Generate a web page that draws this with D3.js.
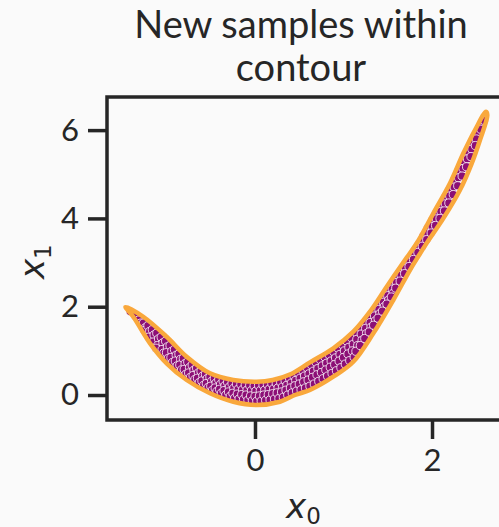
<!DOCTYPE html>
<html>
<head>
<meta charset="utf-8">
<script src="https://cdn.jsdelivr.net/npm/d3@7"></script>
<style>
  body { margin: 0; background: #fafafa; }
  svg { display: block; }
</style>
</head>
<body>
<svg width="499" height="527"></svg>
<script>
// title, ticks
var titleLines = ["New samples within", "contour"];
var xTicks = [0, 2];
var yTicks = [0, 2, 4, 6];

// contour outline (x0, x1), closed
var contour = [
  [-1.463, 1.993], [-1.262, 1.773], [-0.998, 1.320], [-0.772, 0.867], [-0.508, 0.491],
  [-0.245, 0.340], [0.019, 0.301], [0.200, 0.340], [0.400, 0.470], [0.621, 0.740],
  [0.885, 1.058], [1.111, 1.434], [1.299, 1.887], [1.488, 2.453], [1.695, 3.058],
  [1.827, 3.436], [2.015, 4.116], [2.203, 4.795], [2.354, 5.474], [2.486, 6.002],
  [2.610, 6.417], [2.625, 6.342], [2.542, 5.776], [2.449, 5.248], [2.316, 4.643],
  [2.128, 4.000], [1.940, 3.440], [1.842, 3.130], [1.751, 2.831], [1.563, 2.152],
  [1.337, 1.397], [1.111, 0.754], [0.885, 0.414], [0.621, 0.113], [0.452, 0.000],
  [0.282, -0.152], [0.019, -0.226], [-0.245, -0.152], [-0.508, 0.039], [-0.772, 0.340],
  [-0.998, 0.718], [-1.186, 1.171], [-1.375, 1.773]
];

// new samples (x0, x1)
var samples = [
  [-1.41,1.89],[-1.35,1.78],[-1.31,1.70],[-1.29,1.63],
  [-1.26,1.63],[-1.24,1.52],[-1.25,1.46],
  [-1.21,1.57],[-1.19,1.44],[-1.20,1.31],
  [-1.16,1.48],[-1.14,1.36],[-1.15,1.20],
  [-1.11,1.40],[-1.09,1.27],[-1.10,1.12],[-1.12,1.06],
  [-1.06,1.31],[-1.04,1.18],[-1.05,1.03],[-1.03,0.95],
  [-1.01,1.22],[-0.99,1.09],[-1.00,0.96],[-0.98,0.83],
  [-0.96,1.12],[-0.94,0.99],[-0.95,0.85],[-0.93,0.74],
  [-0.91,1.03],[-0.89,0.90],[-0.90,0.77],[-0.88,0.66],
  [-0.86,0.93],[-0.84,0.81],[-0.85,0.68],[-0.83,0.57],
  [-0.81,0.83],[-0.79,0.71],[-0.80,0.58],[-0.78,0.47],
  [-0.76,0.75],[-0.74,0.62],[-0.75,0.50],[-0.73,0.40],
  [-0.71,0.68],[-0.69,0.56],[-0.70,0.44],[-0.68,0.35],
  [-0.66,0.61],[-0.64,0.50],[-0.65,0.38],[-0.63,0.28],
  [-0.61,0.54],[-0.59,0.43],[-0.60,0.32],[-0.58,0.22],
  [-0.56,0.47],[-0.54,0.37],[-0.55,0.26],[-0.53,0.17],
  [-0.51,0.41],[-0.49,0.31],[-0.50,0.20],[-0.48,0.11],
  [-0.46,0.38],[-0.44,0.27],[-0.45,0.16],[-0.43,0.08],
  [-0.41,0.35],[-0.39,0.24],[-0.40,0.13],[-0.38,0.04],
  [-0.36,0.32],[-0.34,0.21],[-0.35,0.10],[-0.33,0.00],
  [-0.31,0.29],[-0.29,0.18],[-0.30,0.07],[-0.28,-0.03],
  [-0.26,0.26],[-0.24,0.15],[-0.25,0.04],[-0.23,-0.07],
  [-0.21,0.25],[-0.19,0.13],[-0.20,0.02],[-0.18,-0.09],
  [-0.16,0.24],[-0.14,0.12],[-0.15,0.01],[-0.13,-0.10],
  [-0.11,0.23],[-0.09,0.11],[-0.10,0.00],[-0.08,-0.12],
  [-0.06,0.22],[-0.04,0.10],[-0.05,-0.02],[-0.03,-0.13],
  [-0.01,0.21],[0.01,0.09],[0.00,-0.03],[0.02,-0.14],
  [0.04,0.22],[0.06,0.10],[0.05,-0.02],[0.07,-0.14],
  [0.09,0.23],[0.11,0.11],[0.10,0.00],[0.12,-0.12],
  [0.14,0.24],[0.16,0.13],[0.15,0.01],[0.17,-0.11],
  [0.19,0.26],[0.21,0.14],[0.20,0.03],[0.22,-0.09],
  [0.24,0.27],[0.26,0.16],[0.25,0.05],[0.27,-0.08],
  [0.29,0.29],[0.31,0.18],[0.30,0.07],[0.32,-0.05],
  [0.34,0.33],[0.36,0.22],[0.35,0.11],[0.37,0.00],
  [0.39,0.38],[0.41,0.27],[0.40,0.16],[0.42,0.05],
  [0.44,0.44],[0.46,0.33],[0.45,0.21],[0.47,0.09],
  [0.49,0.50],[0.51,0.38],[0.50,0.25],[0.52,0.12],
  [0.54,0.56],[0.56,0.43],[0.55,0.30],[0.57,0.16],
  [0.59,0.62],[0.61,0.48],[0.60,0.34],[0.62,0.20],
  [0.64,0.68],[0.66,0.54],[0.65,0.40],[0.67,0.25],
  [0.69,0.74],[0.71,0.60],[0.70,0.46],[0.72,0.31],
  [0.74,0.80],[0.76,0.66],[0.75,0.51],[0.77,0.37],
  [0.79,0.86],[0.81,0.72],[0.80,0.57],[0.82,0.43],
  [0.84,0.91],[0.86,0.77],[0.85,0.63],[0.87,0.49],
  [0.89,0.98],[0.91,0.84],[0.90,0.69],[0.92,0.55],
  [0.94,1.06],[0.96,0.92],[0.95,0.77],[0.97,0.62],
  [0.99,1.14],[1.01,1.00],[1.00,0.85],[1.02,0.70],
  [1.04,1.22],[1.06,1.08],[1.05,0.93],[1.07,0.78],
  [1.09,1.30],[1.11,1.15],[1.10,1.00],[1.12,0.86],
  [1.15,1.40],[1.15,1.26],[1.16,1.12],[1.14,0.99],
  [1.20,1.52],[1.20,1.38],[1.21,1.24],[1.19,1.12],
  [1.25,1.65],[1.25,1.51],[1.26,1.39],[1.24,1.28],
  [1.30,1.78],[1.30,1.64],[1.31,1.53],[1.29,1.43],
  [1.35,1.92],[1.35,1.79],[1.36,1.68],[1.34,1.58],
  [1.40,2.06],[1.40,1.94],[1.41,1.84],[1.39,1.74],
  [1.45,2.22],[1.45,2.10],[1.46,2.00],[1.44,1.90],
  [1.50,2.37],[1.50,2.25],[1.51,2.15],[1.49,2.06],
  [1.55,2.52],[1.55,2.40],[1.56,2.30],[1.54,2.22],
  [1.60,2.67],[1.60,2.55],[1.59,2.42],
  [1.65,2.82],[1.65,2.71],[1.64,2.58],
  [1.70,2.96],[1.70,2.87],[1.69,2.75],
  [1.75,3.11],[1.75,3.02],[1.74,2.91],
  [1.80,3.26],[1.80,3.18],[1.79,3.07],
  [1.85,3.42],[1.85,3.33],[1.84,3.23],
  [1.90,3.60],[1.90,3.49],[1.89,3.37],
  [1.95,3.78],[1.95,3.66],[1.94,3.52],
  [2.00,3.95],[2.00,3.82],[1.99,3.67],
  [2.05,4.12],[2.05,3.99],[2.04,3.84],
  [2.10,4.30],[2.10,4.16],[2.09,4.00],
  [2.15,4.48],[2.15,4.33],[2.14,4.17],
  [2.20,4.66],[2.20,4.51],[2.19,4.35],
  [2.25,4.87],[2.25,4.71],[2.24,4.54],
  [2.30,5.09],[2.30,4.92],[2.29,4.74],
  [2.35,5.30],[2.35,5.13],[2.34,4.96],
  [2.40,5.52],[2.40,5.35],[2.39,5.17],
  [2.45,5.73],[2.45,5.57],[2.44,5.40],
  [2.50,5.92],[2.50,5.80],[2.49,5.65],
  [2.55,6.10],[2.55,6.02],
  [2.59,6.22]
];

var ink = "#262626";
var font = "Lato, 'DejaVu Sans', sans-serif";

var box = {left: 107, right: 503, top: 97, bottom: 420};

var svg = d3.select("svg");

var x = d3.scaleLinear().domain([-1.672, 2.802]).range([box.left, box.right]);
var y = d3.scaleLinear().domain([-0.566, 6.75]).range([box.bottom, box.top]);

// title
svg.append("g").selectAll("text")
  .data(titleLines)
  .enter().append("text")
  .attr("x", 301)
  .attr("y", function (d, i) { return 38 + i * 43; })
  .attr("text-anchor", "middle")
  .style("font-family", font).style("font-size", "38px").attr("fill", ink)
  .text(function (d) { return d; });

// samples
svg.append("g").selectAll("circle")
  .data(samples)
  .enter().append("circle")
  .attr("cx", function (d) { return x(d[0]); })
  .attr("cy", function (d) { return y(d[1]); })
  .attr("r", 4.1)
  .attr("fill", "#8c0f76")
  .attr("stroke", "#ffffff")
  .attr("stroke-width", 0.8);

// contour
var line = d3.line()
  .x(function (d) { return x(d[0]); })
  .y(function (d) { return y(d[1]); })
  .curve(d3.curveCatmullRomClosed.alpha(0.5));

svg.append("path")
  .attr("d", line(contour))
  .attr("fill", "none")
  .attr("stroke", "#f9a83c")
  .attr("stroke-width", 4.5)
  .attr("stroke-linejoin", "round");

// axes
var xAxis = d3.axisBottom(x).tickValues(xTicks).tickSize(19).tickPadding(10).tickFormat(d3.format("d"));
var yAxis = d3.axisLeft(y).tickValues(yTicks).tickSize(19).tickPadding(9).tickFormat(d3.format("d"));

var gx = svg.append("g").attr("transform", "translate(0," + box.bottom + ")").call(xAxis);
var gy = svg.append("g").attr("transform", "translate(" + box.left + ",0)").call(yAxis);

[gx, gy].forEach(function (g) {
  g.select(".domain").remove();
  g.selectAll(".tick line").attr("stroke", ink).attr("stroke-width", 3.5);
  g.selectAll(".tick text").attr("fill", ink)
    .style("font-family", font).style("font-size", "31px");
});

// spines
svg.append("rect")
  .attr("x", box.left).attr("y", box.top)
  .attr("width", box.right - box.left).attr("height", box.bottom - box.top)
  .attr("fill", "none").attr("stroke", ink).attr("stroke-width", 3.5);

// axis labels
var xl = svg.append("text")
  .attr("x", 286).attr("y", 518)
  .attr("fill", ink)
  .style("font-family", "'DejaVu Sans', sans-serif").style("font-size", "34px");
xl.append("tspan").style("font-style", "italic").text("x");
xl.append("tspan").attr("dy", 6).style("font-size", "23px").text("0");

var yl = svg.append("text")
  .attr("transform", "translate(44,279) rotate(-90)")
  .attr("fill", ink)
  .style("font-family", "'DejaVu Sans', sans-serif").style("font-size", "34px");
yl.append("tspan").style("font-style", "italic").text("x");
yl.append("tspan").attr("dy", 7).style("font-size", "23px").text("1");
</script>
</body>
</html>
